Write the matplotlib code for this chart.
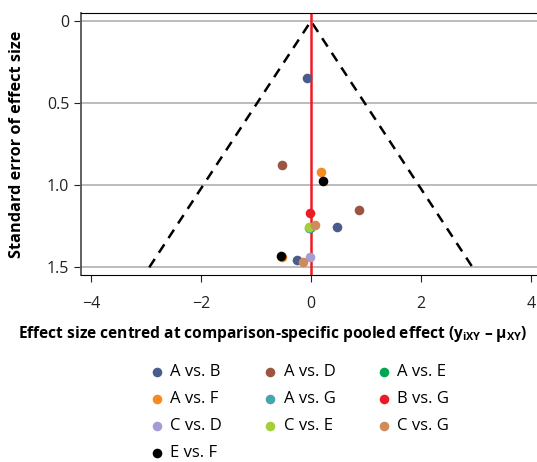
import matplotlib
matplotlib.use("Agg")
import matplotlib.pyplot as plt
import numpy as np

plt.rcParams['font.family'] = ['Open Sans', 'DejaVu Sans']
plt.rcParams['mathtext.fontset'] = 'custom'
plt.rcParams['mathtext.rm'] = 'Open Sans'

# comparisons, colours and points (centred effect, standard error)
comparisons = ["A vs. B", "A vs. D", "A vs. E", "A vs. F", "A vs. G",
               "B vs. G", "C vs. D", "C vs. E", "C vs. G", "E vs. F"]
colors = ["#4a5b8c", "#9b5540", "#00a651", "#f68b1f", "#45a6b1",
          "#ed1c24", "#a39dd5", "#a4cf3b", "#d08b5b", "#000000"]
effect = {
    "A vs. B": [-0.08, 0.47, -0.26],
    "A vs. D": [-0.53, 0.87],
    "A vs. E": [-0.02],
    "A vs. F": [0.19, -0.52],
    "A vs. G": [-0.03],
    "B vs. G": [-0.02],
    "C vs. D": [-0.01],
    "C vs. E": [-0.04],
    "C vs. G": [0.07, -0.15],
    "E vs. F": [0.22, -0.54],
}
se = {
    "A vs. B": [0.347, 1.256, 1.454],
    "A vs. D": [0.877, 1.153],
    "A vs. E": [1.262],
    "A vs. F": [0.922, 1.44],
    "A vs. G": [1.258],
    "B vs. G": [1.166],
    "C vs. D": [1.44],
    "C vs. E": [1.255],
    "C vs. G": [1.24, 1.466],
    "E vs. F": [0.974, 1.43],
}
yticks = [0, 0.5, 1.0, 1.5]
yticklabels = ["0", "0.5", "1.0", "1.5"]
xticks = [-4, -2, 0, 2, 4]

fig = plt.figure(figsize=(5.37, 4.62), dpi=100)
ax = fig.add_axes([0.151, 0.405, 0.856, 0.566])

for y in yticks:
    ax.axhline(y, color="#b0b0b0", lw=1.2, zorder=0)

# pseudo 95% confidence funnel
se_max = 1.5
ax.plot([-1.96 * se_max, 0, 1.96 * se_max], [se_max, 0, se_max],
        color="black", ls=(0, (4, 3)), lw=1.8, zorder=1)
ax.axvline(0, color="#ed1c24", lw=1.8, zorder=2)

handles = []
for name, col in zip(comparisons, colors):
    h = ax.scatter(effect[name], se[name], s=48, color=col, label=name,
                   zorder=3, linewidths=0)
    handles.append(h)

ax.set_xlim(-4.18, 4.18)
ax.set_ylim(1.546, -0.047)
ax.set_xticks(xticks)
ax.set_xticklabels(["\u22124", "\u22122", "0", "2", "4"])
ax.set_yticks(yticks)
ax.set_yticklabels(yticklabels)
ax.tick_params(direction="out", length=5, labelsize=11.5, colors="#222222")
ax.tick_params(axis="x", pad=10)
ax.spines["right"].set_visible(False)
ax.spines["left"].set_color("#555555")
ax.spines["left"].set_linewidth(1.3)

ax.set_ylabel("Standard error of effect size", fontsize=11.7, fontweight="bold")
ax.yaxis.set_label_coords(-0.122, 0.5)
fig.text(0.507, 0.268,
         r"Effect size centred at comparison-specific pooled effect (y$_{\mathregular{iXY}}$ – μ$_{\mathregular{XY}}$)",
         fontsize=11.2, fontweight="bold", ha="center", va="baseline")

# legend filled row by row
order = [0, 3, 6, 9, 1, 4, 7, 2, 5, 8]
fig.legend([handles[i] for i in order], [comparisons[i] for i in order],
           loc="upper left", bbox_to_anchor=(0.278, 0.212), ncol=3,
           frameon=False, fontsize=12, handletextpad=0.35, columnspacing=2.45,
           labelspacing=0.66, handlelength=0.9, scatterpoints=1,
           borderaxespad=0, borderpad=0)

fig.savefig("out.png", dpi=100)
